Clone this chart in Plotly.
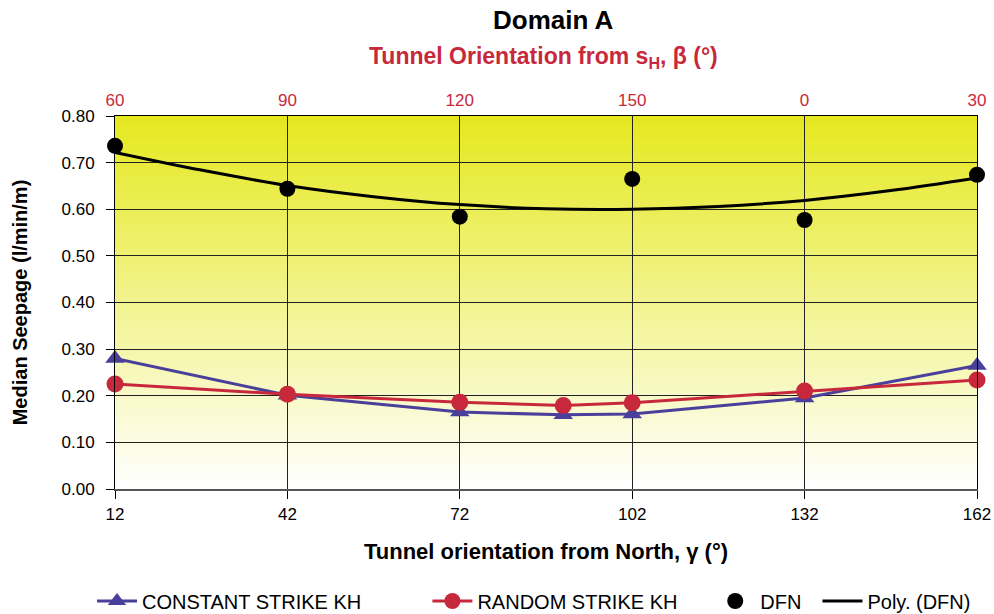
import plotly.graph_objects as go

# Tunnel orientation from North (gamma, degrees) and from s_H (beta, degrees)
gamma = [12, 42, 72, 90, 102, 132, 162]
gamma_ticks = [12, 42, 72, 102, 132, 162]
beta_labels = ["60", "90", "120", "150", "0", "30"]

# Median seepage (l/min/m)
constant_strike = [0.280, 0.201, 0.165, 0.159, 0.161, 0.195, 0.265]
random_strike = [0.225, 0.203, 0.186, 0.179, 0.185, 0.210, 0.234]

dfn_gamma = [12, 42, 72, 102, 132, 162]
dfn = [0.736, 0.644, 0.584, 0.665, 0.577, 0.674]

# Polynomial trendline through the DFN results
poly_gamma = [12, 27, 42, 57, 72, 87, 102, 117, 132, 147, 162]
poly_dfn = [0.722, 0.684, 0.651, 0.627, 0.610, 0.601, 0.600, 0.606, 0.619, 0.640, 0.667]

BLUE = "#4a3f9b"
RED = "#c8283c"
SANS = "Liberation Sans, Arial, sans-serif"
NBSP = "\u00a0"


def legend_name(text, pad):
    # trailing no-break spaces widen the legend entry
    return text + NBSP * pad


fig = go.Figure()

fig.add_trace(go.Scatter(
    x=gamma, y=constant_strike, name=legend_name("CONSTANT STRIKE KH", 11),
    mode="lines+markers", line=dict(color=BLUE, width=3),
    marker=dict(symbol="triangle-up", size=17, color=BLUE),
    cliponaxis=False))
fig.add_trace(go.Scatter(
    x=gamma, y=random_strike, name=legend_name("RANDOM STRIKE KH", 5),
    mode="lines+markers", line=dict(color=RED, width=3),
    marker=dict(symbol="circle", size=17, color=RED),
    cliponaxis=False))
fig.add_trace(go.Scatter(
    x=dfn_gamma, y=dfn, name=legend_name("DFN", 2), mode="markers",
    marker=dict(symbol="circle", size=16, color="black"),
    cliponaxis=False))
fig.add_trace(go.Scatter(
    x=poly_gamma, y=poly_dfn, name="Poly. (DFN)", mode="lines",
    line=dict(color="black", width=3, shape="spline"),
    cliponaxis=False))
# carries the top (beta) axis
fig.add_trace(go.Scatter(
    x=dfn_gamma, y=dfn, xaxis="x2", mode="markers",
    marker=dict(opacity=0), showlegend=False, hoverinfo="skip"))

# vertical yellow-to-white fill of the plotting area
top_rgb = (229, 232, 30)
n_bands = 120
shapes = []
for i in range(n_bands):
    f = i / (n_bands - 1)
    r, g, b = (round(c + (255 - c) * f) for c in top_rgb)
    shapes.append(dict(
        type="rect", xref="x domain", yref="y domain",
        x0=0, x1=1, y0=1 - (i + 1) / n_bands, y1=1 - i / n_bands + 0.002,
        fillcolor=f"rgb({r},{g},{b})", line=dict(width=0), layer="below"))

W, H = 994, 614
L, R, T, B = 115, 17, 116, 125
plot_w = W - L - R
plot_h = H - T - B

fig.update_layout(
    width=W, height=H,
    margin=dict(l=L, r=R, t=T, b=B, autoexpand=False),
    paper_bgcolor="white", plot_bgcolor="white",
    shapes=shapes,
    showlegend=True,
    legend=dict(orientation="h",
                x=(92 - L) / plot_w, xanchor="left",
                y=-(601 - 489) / plot_h, yanchor="middle",
                font=dict(family=SANS, size=20, color="black"),
                itemwidth=40, tracegroupgap=0, bgcolor="rgba(0,0,0,0)"),
    xaxis=dict(
        range=[12, 162], tickvals=gamma_ticks, ticktext=[str(v) for v in gamma_ticks],
        showgrid=True, gridcolor="#222", gridwidth=1,
        showline=True, linecolor="#555", linewidth=2,
        ticks="outside", ticklen=8, tickcolor="black", ticklabelstandoff=1,
        tickfont=dict(family=SANS, size=17, color="black"),
        zeroline=False, automargin=False,
        title=dict(text="Tunnel orientation from North, γ (°)", standoff=20,
                   font=dict(family=SANS, size=22, color="black", weight="bold"))),
    xaxis2=dict(
        range=[12, 162], overlaying="x", side="top", anchor="y",
        tickvals=gamma_ticks, ticktext=beta_labels,
        showgrid=False, showline=True, linecolor="black", linewidth=1,
        ticks="", ticklabelstandoff=2, automargin=False,
        tickfont=dict(family=SANS, size=17, color=RED)),
    yaxis=dict(
        range=[0, 0.8], dtick=0.1, tickformat=".2f",
        showgrid=True, gridcolor="#222", gridwidth=1,
        showline=True, linecolor="black", linewidth=1, mirror=True,
        ticks="outside", ticklen=8, tickcolor="black", ticklabelstandoff=8,
        tickfont=dict(family=SANS, size=17, color="black"),
        zeroline=False, automargin=False,
        title=dict(text="Median Seepage (l/min/m)", standoff=28,
                   font=dict(family=SANS, size=20, color="black", weight="bold"))),
    annotations=[
        dict(text="Domain A", xref="paper", yref="paper",
             x=(553 - L) / plot_w, y=1 + (T - 20) / plot_h, yanchor="middle",
             showarrow=False,
             font=dict(family=SANS, size=26, color="black", weight="bold")),
        dict(text="Tunnel Orientation from s<sub>H</sub>, β (°)",
             xref="paper", yref="paper",
             x=(543 - L) / plot_w, y=1 + (T - 58) / plot_h, yanchor="middle",
             showarrow=False,
             font=dict(family=SANS, size=23, color=RED, weight="bold")),
    ],
)

fig.write_html("out.html")
